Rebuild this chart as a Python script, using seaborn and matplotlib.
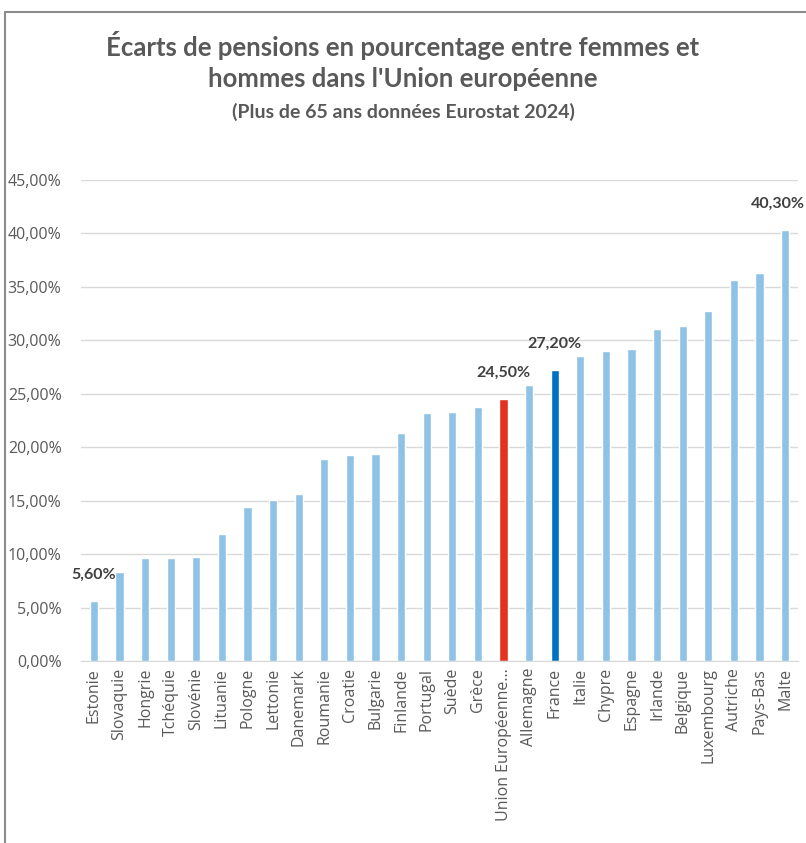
import matplotlib
matplotlib.use("Agg")
import matplotlib.pyplot as plt
import seaborn as sns
import pandas as pd
from matplotlib.lines import Line2D
from matplotlib.ticker import FuncFormatter, MultipleLocator

countries = ["Estonie", "Slovaquie", "Hongrie", "Tchéquie", "Slovénie", "Lituanie",
             "Pologne", "Lettonie", "Danemark", "Roumanie", "Croatie", "Bulgarie",
             "Finlande", "Portugal", "Suède", "Grèce", "Union Européenne...",
             "Allemagne", "France", "Italie", "Chypre", "Espagne", "Irlande",
             "Belgique", "Luxembourg", "Autriche", "Pays-Bas", "Malte"]
values = [5.6, 8.3, 9.6, 9.6, 9.7, 11.9, 14.4, 15.1, 15.6, 18.9, 19.3, 19.4,
          21.3, 23.2, 23.3, 23.8, 24.5, 25.8, 27.2, 28.5, 29.0, 29.2, 31.1,
          31.3, 32.7, 35.6, 36.3, 40.3]
labelled = ["Estonie", "Union Européenne...", "France", "Malte"]

LIGHT = "#8ec3e6"
RED = "#e3321f"
DARK = "#0070c0"
colors = {c: LIGHT for c in countries}
colors["Union Européenne..."] = RED
colors["France"] = DARK

df = pd.DataFrame({"pays": countries, "ecart": values})

sns.set_style("white")
plt.rcParams["font.family"] = ["Open Sans", "DejaVu Sans"]

fig = plt.figure(figsize=(8.06, 8.43), dpi=100)
ax = fig.add_axes([81 / 806, 1 - 661 / 843, (798 - 81) / 806, (661 - 180) / 843])

sns.barplot(data=df, x="pays", y="ecart", hue="pays", palette=colors,
            legend=False, width=0.32, ax=ax, saturation=1)

ax.set_ylim(0, 45)
ax.set_xlim(-0.5, len(countries) - 0.5)
ax.yaxis.set_major_locator(MultipleLocator(5))
ax.yaxis.set_major_formatter(FuncFormatter(lambda v, p: f"{v:.2f}".replace(".", ",") + "%"))
ax.grid(axis="y", color="#d9d9d9", linewidth=1)
ax.set_axisbelow(True)
for s in ["top", "right", "left"]:
    ax.spines[s].set_visible(False)
ax.spines["bottom"].set_color("#d9d9d9")
ax.set_xlabel("")
ax.set_ylabel("")
ax.tick_params(axis="both", length=0, colors="#595959")
ax.tick_params(axis="y", labelsize=11.5, pad=14)
ax.tick_params(axis="x", labelsize=11.5, pad=5)
plt.setp(ax.get_xticklabels(), rotation=90)

for i, (c, v) in enumerate(zip(countries, values)):
    if c in labelled:
        dx = -5 if c == "Malte" else 0
        ax.annotate(f"{v:.2f}".replace(".", ",") + "%", (i, v), xytext=(dx, 14),
                    textcoords="offset points", ha="center", va="bottom",
                    fontsize=11.5, fontweight="bold", color="#404040",
                    family=["Lato", "DejaVu Sans"], annotation_clip=False)

fig.text(0.5, 1 - 45 / 843, "Écarts de pensions en pourcentage entre femmes et",
         ha="center", va="center", fontsize=18.5, fontweight="bold", color="#595959",
         family=["Lato", "DejaVu Sans"])
fig.text(0.5, 1 - 79 / 843, "hommes dans l'Union européenne",
         ha="center", va="center", fontsize=18.5, fontweight="bold", color="#595959",
         family=["Lato", "DejaVu Sans"])
fig.text(0.5, 1 - 112 / 843, "(Plus de 65 ans données Eurostat 2024)",
         ha="center", va="center", fontsize=14, fontweight="bold", color="#595959",
         family=["Lato", "DejaVu Sans"])

fig.add_artist(Line2D([5 / 806, 1.0], [1 - 12 / 843, 1 - 12 / 843],
                      transform=fig.transFigure, color="#8c8c8c", linewidth=1.5))
fig.add_artist(Line2D([5 / 806, 5 / 806], [0, 1 - 12 / 843],
                      transform=fig.transFigure, color="#8c8c8c", linewidth=1.5))

fig.savefig("out.png", dpi=100, facecolor="white")
